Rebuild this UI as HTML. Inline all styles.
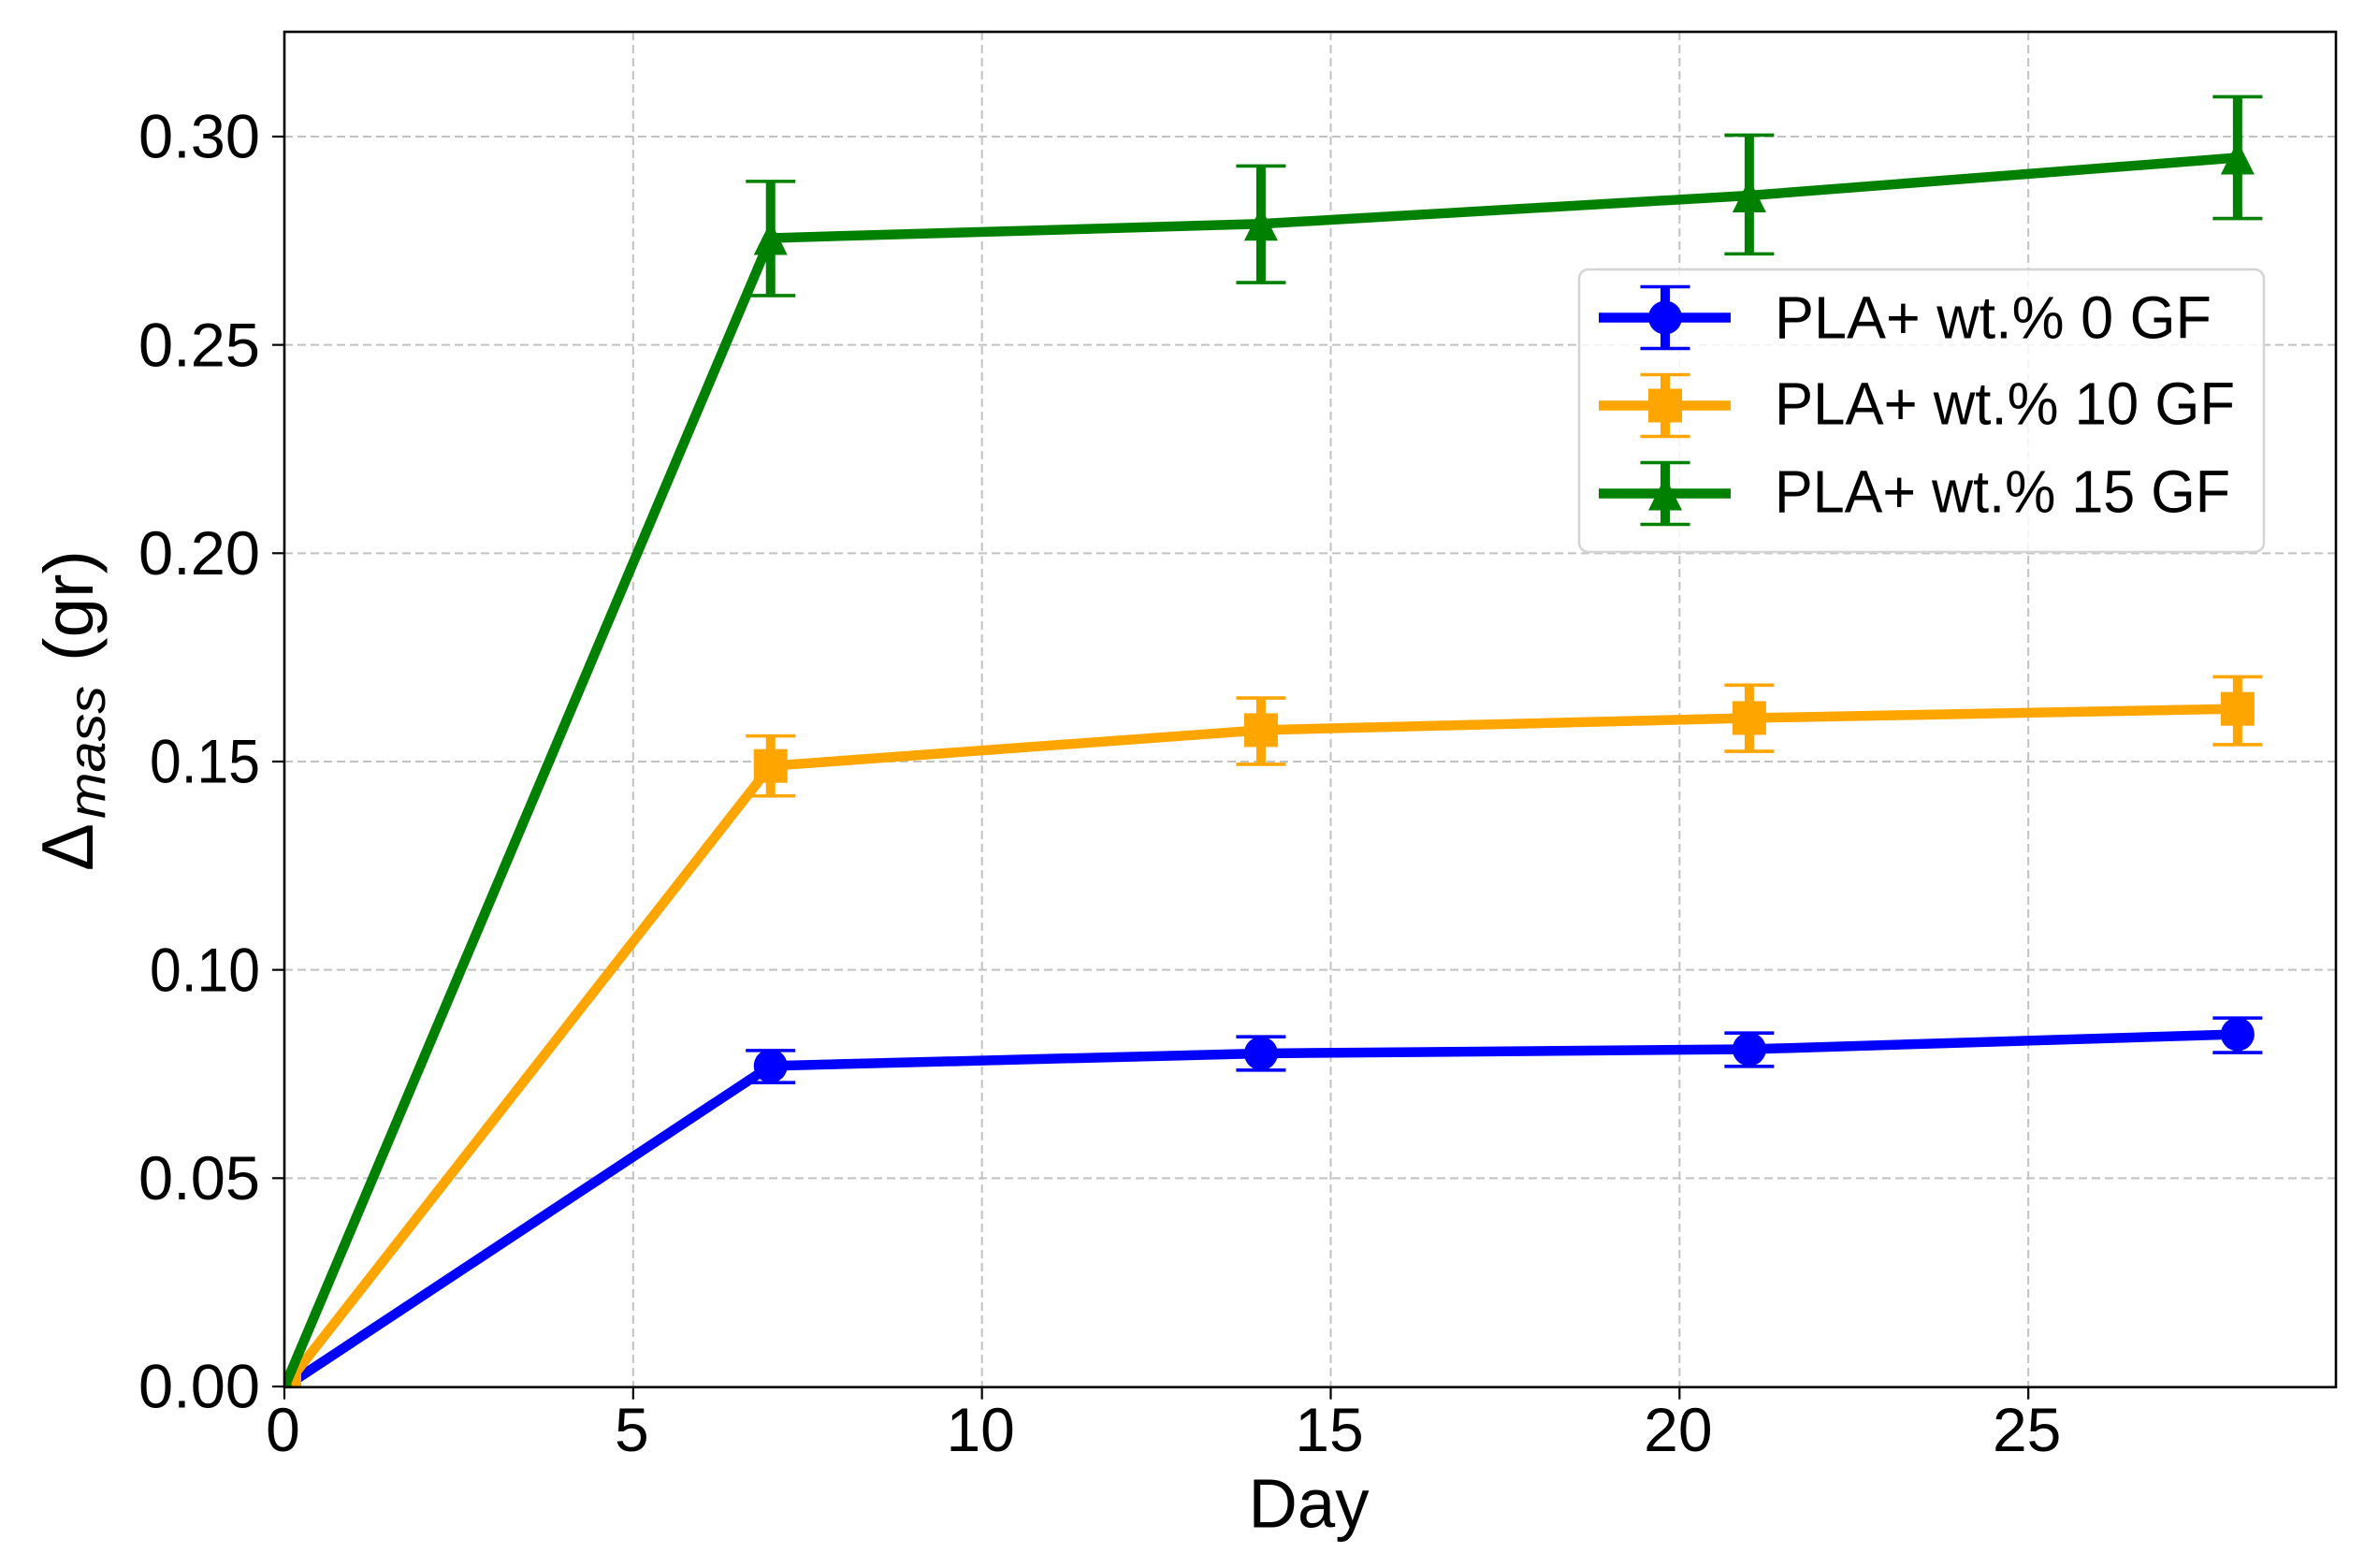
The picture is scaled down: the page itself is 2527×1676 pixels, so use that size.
<!DOCTYPE html>
<html lang="en">
<head>
<meta charset="utf-8">
<title>Mass change over days</title>
<style>
  html, body { margin: 0; padding: 0; background: #fff; }
  svg { display: block; }
  text { font-family: "Liberation Sans", sans-serif; fill: #000; }
</style>
</head>
<body>
<svg id="chart" xmlns="http://www.w3.org/2000/svg" width="2527" height="1676" viewBox="0 0 2527 1676">
  <defs>
    <clipPath id="plot-clip"><rect x="304" y="34" width="2193" height="1448.7"></rect></clipPath>
  </defs>
  <rect x="0" y="0" width="2527" height="1676" fill="#fff"></rect>
  <g id="grid"></g>
  <g id="series" clip-path="url(#plot-clip)"></g>
  <g id="legend">
    <rect x="1688" y="288" width="732" height="302" rx="10" ry="10" fill="#fff" fill-opacity="0.82" stroke="#d4d4d4" stroke-width="2.5"></rect>
    <g id="legend-handles"></g>
    <text x="1897" y="361.5" font-size="64" textLength="467" lengthAdjust="spacingAndGlyphs">PLA+ wt.% 0 GF</text>
    <text x="1897" y="453.5" font-size="64" textLength="492" lengthAdjust="spacingAndGlyphs">PLA+ wt.% 10 GF</text>
    <text x="1897" y="547.5" font-size="64" textLength="487" lengthAdjust="spacingAndGlyphs">PLA+ wt.% 15 GF</text>
  </g>
  <g id="axes"></g>
  <text x="1399" y="1632.5" font-size="74" text-anchor="middle" textLength="129" lengthAdjust="spacingAndGlyphs">Day</text>
  <g>
    <text transform="translate(99 931) rotate(-90)" font-size="78" textLength="51" lengthAdjust="spacingAndGlyphs">Δ</text>
    <text transform="translate(112 875) rotate(-90)" font-size="56" font-style="italic" textLength="142" lengthAdjust="spacingAndGlyphs">mass</text>
    <text transform="translate(99 707) rotate(-90)" font-size="74" textLength="119" lengthAdjust="spacingAndGlyphs">(gr)</text>
  </g>
</svg>
<script>
const days = [0, 6.97, 14, 21, 28];

const blueValues = [0, 0.0771, 0.0801, 0.0811, 0.0847];
const blueUpper = [0, 0.0808, 0.0841, 0.0850, 0.0886];
const blueLower = [0, 0.0731, 0.0761, 0.0770, 0.0803];

const orangeValues = [0, 0.1491, 0.1577, 0.1606, 0.1628];
const orangeUpper = [0, 0.1563, 0.1654, 0.1685, 0.1705];
const orangeLower = [0, 0.1419, 0.1495, 0.1526, 0.1542];

const greenValues = [0, 0.2758, 0.2792, 0.2860, 0.2951];
const greenUpper = [0, 0.2894, 0.2931, 0.3005, 0.3097];
const greenLower = [0, 0.2620, 0.2651, 0.2720, 0.2805];

const xTickValues = [0, 5, 10, 15, 20, 25];
const xTickLabels = ['0', '5', '10', '15', '20', '25'];
const yTickValues = [0, 0.05, 0.10, 0.15, 0.20, 0.25, 0.30];
const yTickLabels = ['0.00', '0.05', '0.10', '0.15', '0.20', '0.25', '0.30'];

const xDomainMax = 29.41;
const yDomainMax = 0.3253;

const NS = 'http://www.w3.org/2000/svg';
const PLOT = { left: 304, right: 2497, top: 34, bottom: 1482.7 };
const MARKER = 18;

function xScale(v) { return PLOT.left + (v / xDomainMax) * (PLOT.right - PLOT.left); }
function yScale(v) { return PLOT.bottom - (v / yDomainMax) * (PLOT.bottom - PLOT.top); }

function make(tag, attrs, parent) {
  const el = document.createElementNS(NS, tag);
  for (const k in attrs) el.setAttribute(k, attrs[k]);
  parent.appendChild(el);
  return el;
}

function drawMarker(shape, cx, cy, color, parent) {
  let el;
  if (shape === 'circle') {
    el = make('circle', { cx: cx, cy: cy, r: MARKER, fill: color }, parent);
  } else if (shape === 'square') {
    el = make('rect', { x: cx - MARKER, y: cy - MARKER, width: MARKER * 2, height: MARKER * 2, fill: color }, parent);
  } else {
    el = make('polygon', { points: cx + ',' + (cy - MARKER) + ' ' + (cx - MARKER) + ',' + (cy + MARKER) + ' ' + (cx + MARKER) + ',' + (cy + MARKER), fill: color }, parent);
  }
  
  
}

function drawErrorBar(cx, yTop, yBottom, color, parent) {
  const stem = make('line', { x1: cx, x2: cx, y1: yTop, y2: yBottom, stroke: color, 'stroke-width': 10 }, parent);
  
  
  [yTop, yBottom].forEach(function (y) {
    const cap = make('line', { x1: cx - 26.5, x2: cx + 26.5, y1: y, y2: y, stroke: color, 'stroke-width': 3.6 }, parent);
    
    
  });
}

/* grid */
const gridGroup = document.getElementById('grid');
xTickValues.forEach(function (v) {
  if (v === 0) return;
  const l = make('line', { x1: xScale(v), x2: xScale(v), y1: PLOT.top, y2: PLOT.bottom, stroke: '#c2c2c2', 'stroke-width': 2, 'stroke-dasharray': '9 5' }, gridGroup);
  
  
});
yTickValues.forEach(function (v) {
  if (v === 0) return;
  const l = make('line', { x1: PLOT.left, x2: PLOT.right, y1: yScale(v) - 0.7, y2: yScale(v) - 0.7, stroke: '#c2c2c2', 'stroke-width': 2, 'stroke-dasharray': '9 5' }, gridGroup);
  
  
});

/* series */
const seriesGroup = document.getElementById('series');
function drawSeries(name, values, upper, lower, color, shape) {
  const g = make('g', {}, seriesGroup);
  
  
  days.forEach(function (d, i) {
    if (upper[i] !== lower[i]) drawErrorBar(xScale(d), yScale(upper[i]), yScale(lower[i]), color, g);
  });
  const pts = days.map(function (d, i) { return xScale(d) + ',' + yScale(values[i]); }).join(' ');
  const line = make('polyline', { points: pts, fill: 'none', stroke: color, 'stroke-width': 10.5, 'stroke-linejoin': 'round' }, g);
  
  
  days.forEach(function (d, i) { drawMarker(shape, xScale(d), yScale(values[i]), color, g); });
}
drawSeries('series-pla-0-gf', blueValues, blueUpper, blueLower, '#0000ff', 'circle');
drawSeries('series-pla-10-gf', orangeValues, orangeUpper, orangeLower, '#ffa500', 'square');
drawSeries('series-pla-15-gf', greenValues, greenUpper, greenLower, '#008000', 'triangle');

/* legend handles */
const handles = document.getElementById('legend-handles');
function drawHandle(name, cy, color, shape) {
  const g = make('g', {}, handles);
  
  
  const cx = 1780;
  drawErrorBar(cx, cy - 33, cy + 33, color, g);
  const l = make('line', { x1: 1709, x2: 1850, y1: cy, y2: cy, stroke: color, 'stroke-width': 10.5 }, g);
  
  
  drawMarker(shape, cx, cy, color, g);
}
drawHandle('legend-handle-0-gf', 339.5, '#0000ff', 'circle');
drawHandle('legend-handle-10-gf', 433.5, '#ffa500', 'square');
drawHandle('legend-handle-15-gf', 527.5, '#008000', 'triangle');

/* axes */
const axesGroup = document.getElementById('axes');
const frame = make('rect', { x: PLOT.left, y: PLOT.top, width: PLOT.right - PLOT.left, height: PLOT.bottom - PLOT.top, fill: 'none', stroke: '#000', 'stroke-width': 2.6 }, axesGroup);



xTickValues.forEach(function (v, i) {
  const t = make('line', { x1: xScale(v), x2: xScale(v), y1: PLOT.bottom, y2: PLOT.bottom + 13, stroke: '#000', 'stroke-width': 2.2 }, axesGroup);
  
  
  const lab = make('text', { x: xScale(v) - 1.5, y: 1551, 'font-size': 66, 'text-anchor': 'middle' }, axesGroup);
  
  
  lab.textContent = xTickLabels[i];
});
yTickValues.forEach(function (v, i) {
  const t = make('line', { x1: PLOT.left - 13, x2: PLOT.left, y1: yScale(v) - 0.7, y2: yScale(v) - 0.7, stroke: '#000', 'stroke-width': 2.2 }, axesGroup);
  
  
  const ones = yTickLabels[i].split('1').length - 1;
  const lab = make('text', { x: 278, y: yScale(v) + 22, 'font-size': 66, 'text-anchor': 'end', textLength: 130 - ones * 12, lengthAdjust: 'spacingAndGlyphs' }, axesGroup);
  
  
  lab.textContent = yTickLabels[i];
});
</script>
</body>
</html>
